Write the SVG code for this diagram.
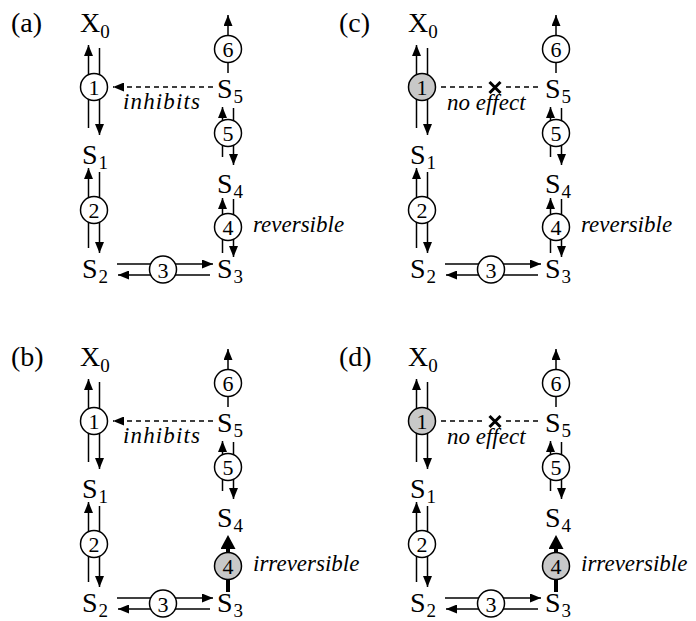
<svg xmlns="http://www.w3.org/2000/svg" width="696" height="621" viewBox="0 0 696 621" font-family="'Liberation Serif', 'Times New Roman', Times, serif">
<style>
text{font-family:'Liberation Serif','Times New Roman',Times,serif;fill:#000}
.lbl{font-size:28px}
.sub{font-size:19px}
.num{font-size:22px;text-anchor:middle}
.it{font-style:italic;font-size:23px}
.ln{stroke:#000;stroke-width:1.5;fill:none}
.arr{marker-end:url(#ah)}
.dash{stroke-dasharray:5 4}
.thick{stroke:#000;stroke-width:4;marker-end:url(#big)}
.cross{stroke:#000;stroke-width:3}
.enz{fill:#fff;stroke:#000;stroke-width:1.5}
.gray{fill:#c8c8c8}
</style>
<defs>
<marker id="ah" viewBox="0 0 11 9" refX="11" refY="4.5" markerWidth="11" markerHeight="9" markerUnits="userSpaceOnUse" orient="auto"><path d="M0,0 L11,4.5 L0,9 z" fill="#000"/></marker>
<marker id="big" viewBox="0 0 14 15" refX="7" refY="7.5" markerWidth="14" markerHeight="15" markerUnits="userSpaceOnUse" orient="auto"><path d="M0,0 L14,7.5 L0,15 z" fill="#000"/></marker>
</defs>

<!-- Panel (a) -->
<g id="panel-a">
<text class="lbl" x="11" y="32">(a)</text>
<g id="a-connectors">
<line class="ln arr" x1="88.5" y1="128" x2="88.5" y2="45"/>
<line class="ln arr" x1="99.5" y1="48" x2="99.5" y2="135"/>
<line class="ln arr" x1="88.5" y1="248" x2="88.5" y2="168"/>
<line class="ln arr" x1="99.5" y1="172" x2="99.5" y2="253"/>
<line class="ln arr" x1="117" y1="264" x2="213" y2="264"/>
<line class="ln arr" x1="210" y1="275" x2="118" y2="275"/>
<line class="ln arr" x1="222.5" y1="253" x2="222.5" y2="198"/>
<line class="ln arr" x1="233.5" y1="199" x2="233.5" y2="257"/>
<line class="ln arr" x1="222.5" y1="157" x2="222.5" y2="107"/>
<line class="ln arr" x1="233.5" y1="108" x2="233.5" y2="165"/>
<line class="ln" x1="228" y1="73" x2="228" y2="62"/>
<line class="ln arr" x1="228" y1="36" x2="228" y2="15"/>
<line class="ln dash arr" x1="213" y1="87" x2="113" y2="87"/>
<text class="it" x="123" y="109" textLength="77">inhibits</text>
<text class="it" x="253" y="232">reversible</text>
</g>
<g id="a-X0"><text class="lbl" x="80" y="32">X<tspan class="sub" dy="6">0</tspan></text></g>
<g id="a-S1"><text class="lbl" x="82" y="164">S<tspan class="sub" dx="1" dy="5">1</tspan></text></g>
<g id="a-S2"><text class="lbl" x="82" y="278">S<tspan class="sub" dx="1" dy="5">2</tspan></text></g>
<g id="a-S3"><text class="lbl" x="217" y="278">S<tspan class="sub" dx="1" dy="5">3</tspan></text></g>
<g id="a-S4"><text class="lbl" x="217" y="193">S<tspan class="sub" dx="1" dy="5">4</tspan></text></g>
<g id="a-S5"><text class="lbl" x="217" y="98">S<tspan class="sub" dx="1" dy="5">5</tspan></text></g>
<g id="a-E1"><circle class="enz" cx="94" cy="87" r="13.5"/><text class="num" x="94" y="95">1</text></g>
<g id="a-E2"><circle class="enz" cx="94" cy="210" r="13.5"/><text class="num" x="94" y="218">2</text></g>
<g id="a-E3"><circle class="enz" cx="163" cy="269.5" r="13.5"/><text class="num" x="163" y="277.5">3</text></g>
<g id="a-E4"><circle class="enz" cx="228" cy="227" r="13.5"/><text class="num" x="228" y="235">4</text></g>
<g id="a-E5"><circle class="enz" cx="228" cy="133" r="13.5"/><text class="num" x="228" y="141">5</text></g>
<g id="a-E6"><circle class="enz" cx="228" cy="49" r="13.5"/><text class="num" x="228" y="57">6</text></g>
</g>

<!-- Panel (b) -->
<g id="panel-b" transform="translate(0,334)">
<text class="lbl" x="11" y="32">(b)</text>
<g id="b-connectors">
<line class="ln arr" x1="88.5" y1="128" x2="88.5" y2="45"/>
<line class="ln arr" x1="99.5" y1="48" x2="99.5" y2="135"/>
<line class="ln arr" x1="88.5" y1="248" x2="88.5" y2="168"/>
<line class="ln arr" x1="99.5" y1="172" x2="99.5" y2="253"/>
<line class="ln arr" x1="117" y1="264" x2="213" y2="264"/>
<line class="ln arr" x1="210" y1="275" x2="118" y2="275"/>
<line class="thick" x1="228" y1="258" x2="228" y2="208"/>
<line class="ln arr" x1="222.5" y1="157" x2="222.5" y2="107"/>
<line class="ln arr" x1="233.5" y1="108" x2="233.5" y2="165"/>
<line class="ln" x1="228" y1="73" x2="228" y2="62"/>
<line class="ln arr" x1="228" y1="36" x2="228" y2="15"/>
<line class="ln dash arr" x1="213" y1="87" x2="113" y2="87"/>
<text class="it" x="123" y="109" textLength="77">inhibits</text>
<text class="it" x="253" y="237">irreversible</text>
</g>
<g id="b-X0"><text class="lbl" x="80" y="32">X<tspan class="sub" dy="6">0</tspan></text></g>
<g id="b-S1"><text class="lbl" x="82" y="164">S<tspan class="sub" dx="1" dy="5">1</tspan></text></g>
<g id="b-S2"><text class="lbl" x="82" y="278">S<tspan class="sub" dx="1" dy="5">2</tspan></text></g>
<g id="b-S3"><text class="lbl" x="217" y="278">S<tspan class="sub" dx="1" dy="5">3</tspan></text></g>
<g id="b-S4"><text class="lbl" x="217" y="193">S<tspan class="sub" dx="1" dy="5">4</tspan></text></g>
<g id="b-S5"><text class="lbl" x="217" y="98">S<tspan class="sub" dx="1" dy="5">5</tspan></text></g>
<g id="b-E1"><circle class="enz" cx="94" cy="87" r="13.5"/><text class="num" x="94" y="95">1</text></g>
<g id="b-E2"><circle class="enz" cx="94" cy="210" r="13.5"/><text class="num" x="94" y="218">2</text></g>
<g id="b-E3"><circle class="enz" cx="163" cy="269.5" r="13.5"/><text class="num" x="163" y="277.5">3</text></g>
<g id="b-E4"><circle class="enz gray" cx="228" cy="232" r="13.5"/><text class="num" x="228" y="240">4</text></g>
<g id="b-E5"><circle class="enz" cx="228" cy="133" r="13.5"/><text class="num" x="228" y="141">5</text></g>
<g id="b-E6"><circle class="enz" cx="228" cy="49" r="13.5"/><text class="num" x="228" y="57">6</text></g>
</g>

<!-- Panel (c) -->
<g id="panel-c" transform="translate(328,0)">
<text class="lbl" x="11" y="32">(c)</text>
<g id="c-connectors">
<line class="ln arr" x1="88.5" y1="128" x2="88.5" y2="45"/>
<line class="ln arr" x1="99.5" y1="48" x2="99.5" y2="135"/>
<line class="ln arr" x1="88.5" y1="248" x2="88.5" y2="168"/>
<line class="ln arr" x1="99.5" y1="172" x2="99.5" y2="253"/>
<line class="ln arr" x1="117" y1="264" x2="213" y2="264"/>
<line class="ln arr" x1="210" y1="275" x2="118" y2="275"/>
<line class="ln arr" x1="222.5" y1="253" x2="222.5" y2="198"/>
<line class="ln arr" x1="233.5" y1="199" x2="233.5" y2="257"/>
<line class="ln arr" x1="222.5" y1="157" x2="222.5" y2="107"/>
<line class="ln arr" x1="233.5" y1="108" x2="233.5" y2="165"/>
<line class="ln" x1="228" y1="73" x2="228" y2="62"/>
<line class="ln arr" x1="228" y1="36" x2="228" y2="15"/>
<line class="ln dash" x1="113" y1="87" x2="157" y2="87"/>
<line class="ln dash" x1="178" y1="87" x2="213" y2="87"/>
<line class="cross" x1="161.5" y1="82" x2="172.5" y2="93"/>
<line class="cross" x1="161.5" y1="93" x2="172.5" y2="82"/>
<text class="it" x="119" y="110">no effect</text>
<text class="it" x="253" y="232">reversible</text>
</g>
<g id="c-X0"><text class="lbl" x="80" y="32">X<tspan class="sub" dy="6">0</tspan></text></g>
<g id="c-S1"><text class="lbl" x="82" y="164">S<tspan class="sub" dx="1" dy="5">1</tspan></text></g>
<g id="c-S2"><text class="lbl" x="82" y="278">S<tspan class="sub" dx="1" dy="5">2</tspan></text></g>
<g id="c-S3"><text class="lbl" x="217" y="278">S<tspan class="sub" dx="1" dy="5">3</tspan></text></g>
<g id="c-S4"><text class="lbl" x="217" y="193">S<tspan class="sub" dx="1" dy="5">4</tspan></text></g>
<g id="c-S5"><text class="lbl" x="217" y="98">S<tspan class="sub" dx="1" dy="5">5</tspan></text></g>
<g id="c-E1"><circle class="enz gray" cx="94" cy="87" r="13.5"/><text class="num" x="94" y="95">1</text></g>
<g id="c-E2"><circle class="enz" cx="94" cy="210" r="13.5"/><text class="num" x="94" y="218">2</text></g>
<g id="c-E3"><circle class="enz" cx="163" cy="269.5" r="13.5"/><text class="num" x="163" y="277.5">3</text></g>
<g id="c-E4"><circle class="enz" cx="228" cy="227" r="13.5"/><text class="num" x="228" y="235">4</text></g>
<g id="c-E5"><circle class="enz" cx="228" cy="133" r="13.5"/><text class="num" x="228" y="141">5</text></g>
<g id="c-E6"><circle class="enz" cx="228" cy="49" r="13.5"/><text class="num" x="228" y="57">6</text></g>
</g>

<!-- Panel (d) -->
<g id="panel-d" transform="translate(328,334)">
<text class="lbl" x="11" y="32">(d)</text>
<g id="d-connectors">
<line class="ln arr" x1="88.5" y1="128" x2="88.5" y2="45"/>
<line class="ln arr" x1="99.5" y1="48" x2="99.5" y2="135"/>
<line class="ln arr" x1="88.5" y1="248" x2="88.5" y2="168"/>
<line class="ln arr" x1="99.5" y1="172" x2="99.5" y2="253"/>
<line class="ln arr" x1="117" y1="264" x2="213" y2="264"/>
<line class="ln arr" x1="210" y1="275" x2="118" y2="275"/>
<line class="thick" x1="228" y1="258" x2="228" y2="208"/>
<line class="ln arr" x1="222.5" y1="157" x2="222.5" y2="107"/>
<line class="ln arr" x1="233.5" y1="108" x2="233.5" y2="165"/>
<line class="ln" x1="228" y1="73" x2="228" y2="62"/>
<line class="ln arr" x1="228" y1="36" x2="228" y2="15"/>
<line class="ln dash" x1="113" y1="87" x2="157" y2="87"/>
<line class="ln dash" x1="178" y1="87" x2="213" y2="87"/>
<line class="cross" x1="161.5" y1="82" x2="172.5" y2="93"/>
<line class="cross" x1="161.5" y1="93" x2="172.5" y2="82"/>
<text class="it" x="119" y="110">no effect</text>
<text class="it" x="253" y="237">irreversible</text>
</g>
<g id="d-X0"><text class="lbl" x="80" y="32">X<tspan class="sub" dy="6">0</tspan></text></g>
<g id="d-S1"><text class="lbl" x="82" y="164">S<tspan class="sub" dx="1" dy="5">1</tspan></text></g>
<g id="d-S2"><text class="lbl" x="82" y="278">S<tspan class="sub" dx="1" dy="5">2</tspan></text></g>
<g id="d-S3"><text class="lbl" x="217" y="278">S<tspan class="sub" dx="1" dy="5">3</tspan></text></g>
<g id="d-S4"><text class="lbl" x="217" y="193">S<tspan class="sub" dx="1" dy="5">4</tspan></text></g>
<g id="d-S5"><text class="lbl" x="217" y="98">S<tspan class="sub" dx="1" dy="5">5</tspan></text></g>
<g id="d-E1"><circle class="enz gray" cx="94" cy="87" r="13.5"/><text class="num" x="94" y="95">1</text></g>
<g id="d-E2"><circle class="enz" cx="94" cy="210" r="13.5"/><text class="num" x="94" y="218">2</text></g>
<g id="d-E3"><circle class="enz" cx="163" cy="269.5" r="13.5"/><text class="num" x="163" y="277.5">3</text></g>
<g id="d-E4"><circle class="enz gray" cx="228" cy="232" r="13.5"/><text class="num" x="228" y="240">4</text></g>
<g id="d-E5"><circle class="enz" cx="228" cy="133" r="13.5"/><text class="num" x="228" y="141">5</text></g>
<g id="d-E6"><circle class="enz" cx="228" cy="49" r="13.5"/><text class="num" x="228" y="57">6</text></g>
</g>
</svg>
